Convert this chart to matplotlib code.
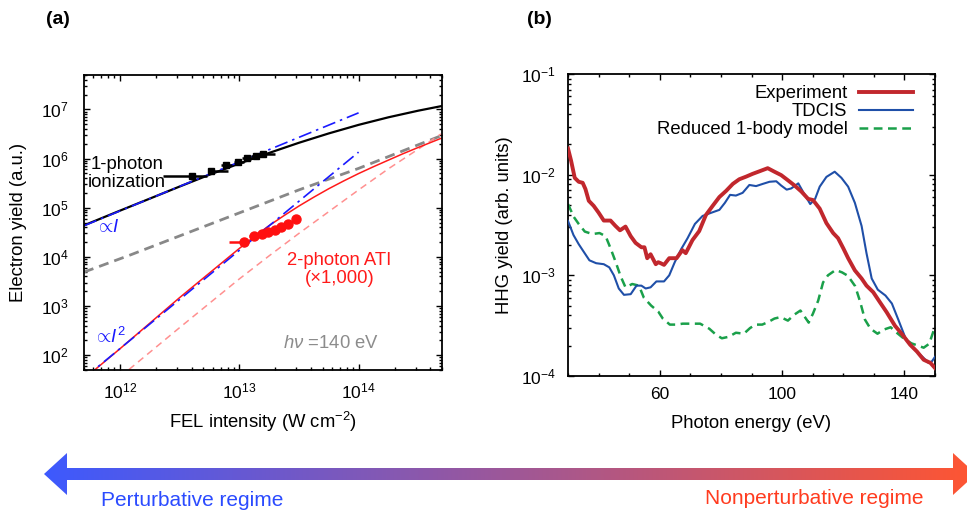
import numpy as np
import matplotlib
matplotlib.use('Agg')
import matplotlib.pyplot as plt
from matplotlib.colors import LinearSegmentedColormap
from matplotlib.path import Path
from matplotlib.patches import PathPatch
from matplotlib.ticker import LogLocator, MultipleLocator, FixedLocator, NullFormatter

plt.rcParams['font.family'] = ['Liberation Sans', 'DejaVu Sans']
plt.rcParams['mathtext.fontset'] = 'custom'
plt.rcParams['mathtext.rm'] = 'Liberation Sans'
plt.rcParams['mathtext.it'] = 'Liberation Sans:italic'
plt.rcParams['mathtext.bf'] = 'Liberation Sans:bold'
plt.rcParams['mathtext.sf'] = 'Liberation Sans'

# ---------------- Panel (a) data ----------------
one_photon_I = [5.0e11, 1.0e12, 1.78e12, 3.16e12, 5.62e12, 1.0e13, 1.78e13, 3.16e13, 5.62e13,
                1.0e14, 1.78e14, 3.16e14, 4.9e14]
one_photon_Y = [4.37e4, 8.7e4, 1.53e5, 2.69e5, 4.68e5, 7.9e5, 1.3e6, 2.09e6, 3.24e6,
                4.84e6, 6.9e6, 9.4e6, 1.16e7]

gray_I = [5.0e11, 1.23e12, 3.16e13, 1.0e14, 4.9e14]
gray_Y = [4.9e3, 1.1e4, 2.3e5, 6.3e5, 2.9e6]

ati_I = [5.0e11, 1.0e12, 3.16e12, 5.62e12, 1.0e13, 1.33e13, 1.78e13, 2.37e13, 3.16e13, 4.22e13,
         5.62e13, 7.5e13, 1.0e14, 1.33e14, 1.78e14, 2.37e14, 3.16e14, 4.9e14]
ati_Y = [33, 135, 1.48e3, 4.68e3, 1.48e4, 2.57e4, 4.32e4, 6.9e4, 1.08e5, 1.64e5,
         2.43e5, 3.5e5, 4.95e5, 6.8e5, 9.3e5, 1.26e6, 1.68e6, 2.57e6]

ati_dash_I = [1.0e12, 3.16e12, 1.0e13, 1.78e13, 3.16e13, 5.62e13, 1.0e14, 1.78e14, 3.16e14, 4.9e14]
ati_dash_Y = [36, 363, 3.55e3, 1.05e4, 3.0e4, 8.3e4, 2.3e5, 6.2e5, 1.55e6, 3.16e6]

lin_I = [5.0e11, 1.0e14]
lin_Y = [4.3e4, 8.5e6]
quad_I = [5.0e11, 1.0e14]
quad_Y = [34, 1.35e6]

one_exp_I = [4.0e12, 5.75e12, 7.8e12, 9.8e12, 1.17e13, 1.38e13, 1.58e13]
one_exp_Y = [4.5e5, 5.6e5, 7.4e5, 8.5e5, 1.02e6, 1.15e6, 1.23e6]
one_exp_Ilo = [2.3e12, 5.5e12, 7.0e12, 9.0e12, 1.05e13, 1.25e13, 1.45e13]
one_exp_Ihi = [5.4e12, 8.0e12, 8.7e12, 1.1e13, 1.3e13, 1.55e13, 2.0e13]

ati_exp_I = [1.1e13, 1.32e13, 1.55e13, 1.74e13, 2.0e13, 2.24e13, 2.57e13, 3.0e13]
ati_exp_Y = [2.0e4, 2.6e4, 2.9e4, 3.2e4, 3.6e4, 4.0e4, 4.7e4, 5.8e4]
ati_exp_Ilo = [8.2e12, 1.2e13, 1.45e13, 1.65e13, 1.9e13, 2.13e13, 2.45e13, 2.85e13]
ati_exp_Ihi = [1.2e13, 1.45e13, 1.65e13, 1.85e13, 2.1e13, 2.35e13, 2.7e13, 3.15e13]

# ---------------- Panel (b) data ----------------
exp_E = [30.0, 31.0, 32.2, 33.5, 34.8, 35.7, 36.8, 38.4, 40.0, 41.7, 43.9, 45.5, 47.0, 48.8,
         50.5, 52.1, 54.0, 55.0, 55.9, 57.0, 58.7, 59.5, 60.3, 61.4, 63.1, 65.5, 67.4, 68.5,
         69.5, 70.7, 72.9, 75.1, 77.3, 79.5, 81.7, 83.9, 86.0, 88.2, 90.4, 92.6, 95.3, 97.5,
         99.7, 101.9, 104.1, 106.3, 108.5, 110.1, 112.3, 114.5, 116.7, 118.3, 120.0, 121.6,
         123.8, 126.0, 127.6, 129.8, 132.0, 134.2, 136.9, 139.1, 141.9, 144.1, 146.3, 148.5, 150.0]
exp_Y = [1.82e-2, 1.38e-2, 9.3e-3, 8.5e-3, 8.3e-3, 7.2e-3, 5.5e-3, 4.9e-3, 4.2e-3, 3.5e-3, 3.5e-3,
         3.1e-3, 2.8e-3, 3.05e-3, 2.45e-3, 2.1e-3, 1.9e-3, 1.9e-3, 1.48e-3, 1.62e-3, 1.29e-3,
         1.35e-3, 1.32e-3, 1.27e-3, 1.48e-3, 1.48e-3, 1.78e-3, 1.66e-3, 1.9e-3, 2.24e-3, 2.75e-3,
         3.98e-3, 4.9e-3, 6.0e-3, 6.9e-3, 8.1e-3, 9.0e-3, 9.55e-3, 1.02e-2, 1.08e-2, 1.16e-2,
         1.07e-2, 9.9e-3, 8.8e-3, 7.8e-3, 6.8e-3, 5.75e-3, 5.6e-3, 4.6e-3, 3.3e-3, 2.63e-3,
         2.34e-3, 1.86e-3, 1.48e-3, 1.12e-3, 9.3e-4, 7.9e-4, 6.8e-4, 5.4e-4, 4.3e-4, 3.16e-4,
         2.63e-4, 2.04e-4, 1.75e-4, 1.45e-4, 1.35e-4, 1.2e-4]

tdcis_E = [30, 31.8, 33.5, 35, 37, 39.2, 41.7, 43.5, 45, 46.6, 48.3, 50.5, 52.4, 54, 55.4, 57,
           58.9, 61.4, 63.1, 64.9, 67, 69.1, 71.5, 74, 76.7, 79.5, 81.3, 83, 84.9, 87.1, 89.3,
           91.5, 93.7, 95.9, 98.1, 99.7, 101.5, 103, 105.3, 106.8, 109.2, 110.8, 112.3, 114.5,
           117.2, 119.4, 121.6, 123.8, 126, 127.6, 129.3, 131.3, 133.8, 135.9, 138, 140.3, 142.5,
           144.1, 146.3, 147.9, 149, 150]
tdcis_Y = [3.47e-3, 2.51e-3, 2.04e-3, 1.74e-3, 1.41e-3, 1.32e-3, 1.29e-3, 1.2e-3, 1.0e-3, 7.4e-4,
           6.4e-4, 6.5e-4, 7.9e-4, 7.9e-4, 7.4e-4, 7.6e-4, 8.7e-4, 8.7e-4, 1.0e-3, 1.35e-3,
           1.82e-3, 2.34e-3, 3.24e-3, 3.89e-3, 4.17e-3, 4.47e-3, 5.25e-3, 6.3e-3, 6.2e-3, 6.6e-3,
           7.9e-3, 7.7e-3, 8.1e-3, 8.5e-3, 8.6e-3, 7.8e-3, 7.1e-3, 7.3e-3, 8.2e-3, 6.8e-3, 5.1e-3,
           5.75e-3, 7.6e-3, 9.5e-3, 1.07e-2, 9.3e-3, 7.6e-3, 5.25e-3, 3.09e-3, 1.66e-3, 9.3e-4,
           7.2e-4, 6.3e-4, 5.25e-4, 3.63e-4, 2.4e-4, 1.95e-4, 1.74e-4, 1.51e-4, 1.35e-4, 1.4e-4,
           1.55e-4]

red_E = [30, 31.9, 33.5, 35.5, 38, 40.3, 42.3, 43.9, 45.5, 47.2, 48.8, 51, 53.2, 54.8, 57.2,
         59.5, 61, 63.3, 65.5, 67.5, 70.7, 73.2, 76.2, 78.4, 80.3, 82.5, 84.9, 87.5, 89.5, 91.3,
         93.5, 95.4, 97.5, 99.5, 101.9, 104, 106, 108.7, 110.1, 111.8, 113.4, 115, 117.5, 119.6,
         121.5, 123.9, 125.5, 127.1, 128.9, 131.2, 133.1, 135.5, 137.5, 139.7, 142.3, 144.5,
         146.3, 148.1, 150]
red_Y = [5.1e-3, 3.8e-3, 3.24e-3, 2.72e-3, 2.57e-3, 2.63e-3, 2.45e-3, 1.86e-3, 1.38e-3, 9.8e-4,
         7.6e-4, 8.2e-4, 7.9e-4, 6.0e-4, 5.0e-4, 4.37e-4, 3.72e-4, 3.24e-4, 3.24e-4, 3.31e-4,
         3.31e-4, 3.31e-4, 2.95e-4, 2.57e-4, 2.37e-4, 2.45e-4, 2.69e-4, 2.63e-4, 2.99e-4, 3.24e-4,
         3.24e-4, 3.43e-4, 3.72e-4, 3.85e-4, 3.55e-4, 4.07e-4, 4.47e-4, 3.39e-4, 4.17e-4, 5.6e-4,
         8.5e-4, 1.0e-3, 1.13e-3, 1.07e-3, 9.9e-4, 7.8e-4, 5.5e-4, 3.63e-4, 2.95e-4, 2.63e-4,
         2.88e-4, 3.05e-4, 2.69e-4, 2.37e-4, 2.11e-4, 2.0e-4, 1.91e-4, 2.09e-4, 3.09e-4]

legend_labels = ['Experiment', 'TDCIS', 'Reduced 1-body model']

# ---------------- Figure ----------------
W, H = 967, 518
fig = plt.figure(figsize=(W / 100, H / 100), dpi=100)


def fax(l, t, r, b):
    return [l / W, 1 - b / H, (r - l) / W, (b - t) / H]


axa = fig.add_axes(fax(84, 75, 442, 370))
axb = fig.add_axes(fax(568, 74, 935, 376))

TICKFS = 12.5
LABFS = 13.3

# ---- panel (a)
axa.plot(gray_I, gray_Y, color='#888888', lw=2.0, ls=(0, (3.6, 2.2)))
axa.plot(ati_dash_I, ati_dash_Y, color='#ff9090', lw=1.1, ls=(0, (4.5, 3.2)))
axa.plot(one_photon_I, one_photon_Y, color='black', lw=1.6)
axa.plot(ati_I, ati_Y, color='#ff1a1a', lw=1.1)
axa.plot(lin_I, lin_Y, color='#1a1aff', lw=1.2, ls=(0, (8, 3, 1.5, 3)))
axa.plot(quad_I, quad_Y, color='#1a1aff', lw=1.2, ls=(0, (8, 3, 1.5, 3)))

xe = np.array(one_exp_I)
axa.errorbar(one_exp_I, one_exp_Y,
             xerr=[xe - np.array(one_exp_Ilo), np.array(one_exp_Ihi) - xe],
             fmt='s', color='black', ms=4.5, elinewidth=1.8, capsize=0, zorder=5)
xe2 = np.array(ati_exp_I)
axa.errorbar(ati_exp_I, ati_exp_Y,
             xerr=[xe2 - np.array(ati_exp_Ilo), np.array(ati_exp_Ihi) - xe2],
             fmt='o', color='#ff1010', ms=6.5, elinewidth=1.8, capsize=0, zorder=5)

axa.set_xscale('log')
axa.set_yscale('log')
axa.set_xlim(5e11, 5e14)
axa.set_ylim(50, 5e7)
axa.xaxis.set_major_locator(FixedLocator([1e12, 1e13, 1e14]))
axa.yaxis.set_major_locator(FixedLocator([1e2, 1e3, 1e4, 1e5, 1e6, 1e7]))
for ax_ in (axa.xaxis, axa.yaxis):
    ax_.set_minor_locator(LogLocator(base=10, subs=np.arange(2, 10), numticks=100))
    ax_.set_minor_formatter(NullFormatter())

axa.text(1.14e12, 5.0e5, '1-photon\nionization', ha='center', va='center',
         fontsize=LABFS, color='black', linespacing=1.05)
axa.text(6.2e11, 4.0e4, r'$\propto\! I$', ha='left', va='center', fontsize=LABFS, color='#1a1aff')
axa.text(5.9e11, 235, r'$\propto\! I^2$', ha='left', va='center', fontsize=LABFS, color='#1a1aff')
axa.text(6.9e13, 5.6e3, '2-photon ATI\n(\u00d71,000)', ha='center', va='center',
         fontsize=LABFS, color='#ff1a1a', linespacing=1.1)
axa.text(5.9e13, 170, r'$h\nu$ =140 eV', ha='center', va='center', fontsize=LABFS, color='#8c8c8c')

axa.set_xlabel('FEL intensity (W cm$^{-2}$)', fontsize=LABFS)
axa.set_ylabel('Electron yield (a.u.)', fontsize=LABFS)
axa.xaxis.set_label_coords(0.5, -0.135)
axa.yaxis.set_label_coords(-0.16, 0.5)

# ---- panel (b)
l1, = axb.plot(exp_E, exp_Y, color='#c1272d', lw=2.8, zorder=4)
l2, = axb.plot(tdcis_E, tdcis_Y, color='#1f4fa8', lw=1.5, zorder=3)
l3, = axb.plot(red_E, red_Y, color='#1aa04a', lw=1.8, ls=(0, (3.5, 2.2)), zorder=2)
axb.set_yscale('log')
axb.set_xlim(30, 150)
axb.set_ylim(1e-4, 1e-1)
axb.xaxis.set_major_locator(FixedLocator([60, 100, 140]))
axb.xaxis.set_minor_locator(MultipleLocator(10))
axb.yaxis.set_major_locator(FixedLocator([1e-4, 1e-3, 1e-2, 1e-1]))
axb.yaxis.set_minor_locator(LogLocator(base=10, subs=np.arange(2, 10), numticks=100))
axb.yaxis.set_minor_formatter(NullFormatter())
axb.set_xlabel('Photon energy (eV)', fontsize=LABFS)
axb.set_ylabel('HHG yield (arb. units)', fontsize=LABFS)
axb.xaxis.set_label_coords(0.5, -0.128)
axb.yaxis.set_label_coords(-0.15, 0.5)

leg = axb.legend([l1, l2, l3], legend_labels, loc='upper right', bbox_to_anchor=(0.94, 0.962),
                 frameon=False, markerfirst=False, fontsize=LABFS, handlelength=2.9,
                 handletextpad=0.65, labelspacing=0.05, borderpad=0, borderaxespad=0)

for ax, ypad in ((axa, 11), (axb, 8.5)):
    ax.tick_params(which='both', direction='in', top=True, right=True, labelsize=TICKFS, width=1.0)
    ax.tick_params(which='major', length=4.5)
    ax.tick_params(which='minor', length=2.3)
    ax.tick_params(axis='x', which='major', pad=8)
    ax.tick_params(axis='y', which='major', pad=ypad)
    for s in ax.spines.values():
        s.set_linewidth(1.3)

fig.text(58 / W, 1 - 19 / H, '(a)', fontsize=14, fontweight='bold', ha='center', va='center')
fig.text(539 / W, 1 - 19 / H, '(b)', fontsize=14, fontweight='bold', ha='center', va='center')

# ---- bottom gradient arrow
axo = fig.add_axes([0, 0, 1, 1], zorder=-1)
axo.set_xlim(0, W)
axo.set_ylim(H, 0)
axo.axis('off')
cy = 474
verts = [(44, cy), (67, cy - 21), (67, cy - 6), (953, cy - 6), (953, cy - 21), (976, cy),
         (953, cy + 21), (953, cy + 6), (67, cy + 6), (67, cy + 21), (44, cy)]
codes = [Path.MOVETO] + [Path.LINETO] * (len(verts) - 2) + [Path.CLOSEPOLY]
patch = PathPatch(Path(verts, codes), facecolor='none', edgecolor='none')
axo.add_patch(patch)
cmap = LinearSegmentedColormap.from_list('reg', ['#3d5afe', '#ff5532'])
grad = np.linspace(0, 1, 512)[None, :]
im = axo.imshow(grad, cmap=cmap, aspect='auto', extent=(44, 976, cy + 22, cy - 22),
                interpolation='bilinear')
im.set_clip_path(patch)
axo.set_xlim(0, W)
axo.set_ylim(H, 0)
axo.text(192, 501, 'Perturbative regime', fontsize=15, color='#2b4bff', ha='center', va='center')
axo.text(814, 499, 'Nonperturbative regime', fontsize=15, color='#ff3b1f', ha='center', va='center')

fig.savefig('out.png', dpi=100)
